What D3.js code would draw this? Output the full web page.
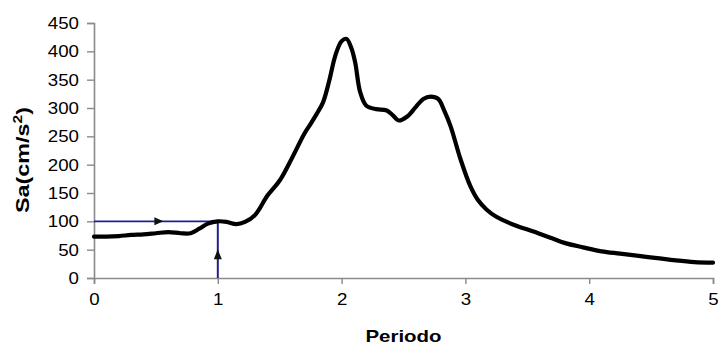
<!DOCTYPE html>
<html>
<head>
<meta charset="utf-8">
<script src="https://cdn.jsdelivr.net/npm/d3@7"></script>
<style>
  html, body { margin: 0; padding: 0; background: #fff; }
  svg { display: block; }
  text { font-family: "Liberation Sans", Arial, sans-serif; }
</style>
</head>
<body>
<svg id="chart" width="722" height="354"></svg>
<script>
// Data
const periods = [0, 0.1, 0.2, 0.3, 0.4, 0.5, 0.6, 0.7, 0.78, 0.85, 0.92, 1.0, 1.07, 1.15, 1.22, 1.3, 1.4, 1.5, 1.6, 1.7, 1.75, 1.8, 1.85, 1.9, 1.95, 2.0, 2.04, 2.08, 2.11, 2.15, 2.2, 2.28, 2.36, 2.41, 2.46, 2.53, 2.6, 2.66, 2.72, 2.78, 2.83, 2.88, 2.96, 3.04, 3.1, 3.17, 3.25, 3.4, 3.55, 3.7, 3.8, 3.95, 4.1, 4.25, 4.4, 4.55, 4.7, 4.85, 5.0];
const saValues = [73, 73, 74, 76, 77, 79, 81, 79, 79, 87, 96, 100, 99, 95, 99, 111, 145, 172, 212, 255, 272, 290, 310, 348, 393, 418, 422, 405, 380, 328, 304, 298, 296, 288, 278, 285, 302, 316, 320, 316, 295, 268, 210, 162, 138, 121, 108, 93, 82, 70, 62, 54, 47, 43, 39, 35, 31, 28, 27];
const xTicks = [0, 1, 2, 3, 4, 5];
const yTicks = [0, 50, 100, 150, 200, 250, 300, 350, 400, 450];
const refPeriod = [1];
const refSa = [100];
const xTitle = "Periodo";
const yTitleMain = "Sa(cm/s";
const yTitleSup = "2";
const yTitleEnd = ")";

const svg = d3.select("#chart");

const x = d3.scaleLinear().domain([0, 5]).range([94, 713]);
const y = d3.scaleLinear().domain([0, 450]).range([278, 23]);

const axisColor = "#8a8a8a";

// X axis
const gx = svg.append("g")
  .attr("transform", `translate(0,${y(0)})`)
  .call(d3.axisBottom(x).tickValues(xTicks).tickFormat(d3.format("d")).tickSizeOuter(0).tickSize(6).tickPadding(8));
// Y axis
const gy = svg.append("g")
  .attr("transform", `translate(${x(0)},0)`)
  .call(d3.axisLeft(y).tickValues(yTicks).tickFormat(d3.format("d")).tickSizeOuter(0).tickSize(7).tickPadding(8));

[gx, gy].forEach(g => {
  g.select(".domain").attr("stroke", axisColor).attr("stroke-width", 1.6);
  g.selectAll(".tick line").attr("stroke", axisColor).attr("stroke-width", 1.4);
  g.selectAll(".tick text")
    .attr("fill", "#000")
    .style("font-size", "17px")
    .style("font-family", "'Liberation Sans', Arial, sans-serif")
    .each(function () {
      const w = this.getComputedTextLength();
      d3.select(this).attr("textLength", w * 1.1).attr("lengthAdjust", "spacingAndGlyphs");
    });
});
gx.selectAll(".tick text").attr("dy", "0.75em");

// Reference blue lines (period 1 -> Sa 100)
const blue = "#1f1f8f";
svg.append("line")
  .attr("x1", x(0)).attr("x2", x(refPeriod[0]))
  .attr("y1", y(refSa[0])).attr("y2", y(refSa[0]))
  .attr("stroke", blue).attr("stroke-width", 1.6);
svg.append("line")
  .attr("x1", x(refPeriod[0])).attr("x2", x(refPeriod[0]))
  .attr("y1", y(0)).attr("y2", y(refSa[0]))
  .attr("stroke", blue).attr("stroke-width", 2);

// Arrowheads
const arrowRightX = x(0.52), arrowRightY = y(refSa[0]);
svg.append("path")
  .attr("d", `M${arrowRightX + 5},${arrowRightY} L${arrowRightX - 4},${arrowRightY - 4} L${arrowRightX - 4},${arrowRightY + 4} Z`)
  .attr("fill", "#111");
const arrowUpX = x(refPeriod[0]), arrowUpY = y(40);
svg.append("path")
  .attr("d", `M${arrowUpX},${arrowUpY - 6} L${arrowUpX - 4},${arrowUpY + 4} L${arrowUpX + 4},${arrowUpY + 4} Z`)
  .attr("fill", "#111");

// Spectrum curve
const data = periods.map((p, i) => ({ p, v: saValues[i] }));
const line = d3.line()
  .x(d => x(d.p))
  .y(d => y(d.v))
  .curve(d3.curveCatmullRom.alpha(0.5));
svg.append("path")
  .datum(data)
  .attr("d", line)
  .attr("fill", "none")
  .attr("stroke", "#000")
  .attr("stroke-width", 4.2)
  .attr("stroke-linejoin", "round")
  .attr("stroke-linecap", "round");

// Titles
svg.append("text")
  .attr("x", (x(0) + x(5)) / 2)
  .attr("y", 342)
  .attr("text-anchor", "middle")
  .attr("textLength", 76)
  .attr("lengthAdjust", "spacingAndGlyphs")
  .style("font-size", "17px")
  .style("font-weight", "bold")
  .text(xTitle);

const yt = svg.append("text")
  .attr("transform", `translate(29,160) rotate(-90)`)
  .attr("text-anchor", "middle")
  .attr("textLength", 106)
  .attr("lengthAdjust", "spacingAndGlyphs")
  .style("font-size", "18px")
  .style("font-weight", "bold");
yt.append("tspan").text(yTitleMain);
yt.append("tspan").attr("dy", -7).style("font-size", "12px").text(yTitleSup);
yt.append("tspan").attr("dy", 7).text(yTitleEnd);
</script>
</body>
</html>
